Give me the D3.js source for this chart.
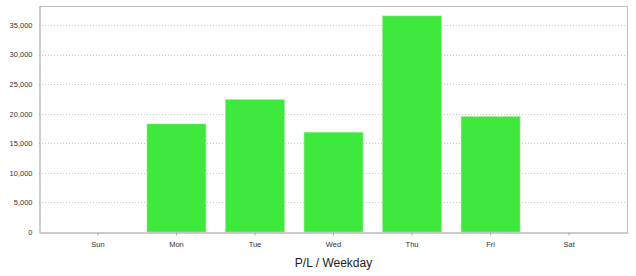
<!DOCTYPE html>
<html>
<head>
<meta charset="utf-8">
<script src="https://cdn.jsdelivr.net/npm/d3@7"></script>
<style>
  body { margin: 0; background: #fff; }
  text { font-family: "Liberation Sans", Arial, sans-serif; fill: #333; }
</style>
</head>
<body>
<div id="chart"></div>
<script>
const weekdays = ['Sun', 'Mon', 'Tue', 'Wed', 'Thu', 'Fri', 'Sat'];
const pl = [0, 18260, 22370, 16860, 36520, 19500, 0];
const yTicks = [0, 5000, 10000, 15000, 20000, 25000, 30000, 35000];
const yMax = 38200;

const W = 636;
const H = 276;
const margin = { t: 6, r: 8, b: 44, l: 39 };
const innerW = W - margin.l - margin.r;
const innerH = H - margin.t - margin.b;

const data = weekdays.map((d, i) => ({ day: d, value: pl[i] }));

const x = d3.scaleBand()
  .domain(weekdays)
  .range([0, innerW])
  .paddingInner(0.25)
  .paddingOuter(0.375);

const y = d3.scaleLinear()
  .domain([0, yMax])
  .range([innerH, 0]);

const svg = d3.select('#chart').append('svg')
  .attr('width', W)
  .attr('height', H);

const g = svg.append('g')
  .attr('transform', `translate(${margin.l}, ${margin.t})`);

// grid
g.selectAll('.grid')
  .data(yTicks.filter(t => t > 0))
  .enter().append('line')
  .attr('class', 'grid')
  .attr('x1', 0)
  .attr('x2', innerW)
  .attr('y1', d => Math.round(y(d)) + 0.5)
  .attr('y2', d => Math.round(y(d)) + 0.5)
  .style('stroke', '#c8c8c8')
  .style('stroke-dasharray', '1,2');

// frame (top + right)
g.append('path')
  .attr('d', `M0.5,0.5H${innerW - 0.5}V${innerH}`)
  .style('fill', 'none')
  .style('stroke', '#bdbdbd');

// bars
g.selectAll('.bar')
  .data(data.filter(d => d.value > 0))
  .enter().append('rect')
  .attr('class', 'bar')
  .attr('x', d => x(d.day))
  .attr('width', x.bandwidth())
  .attr('y', d => y(d.value))
  .attr('height', d => innerH - y(d.value))
  .style('fill', '#3fe83c')
  .style('stroke', '#8cf08a')
  .style('stroke-width', 0.6);

// y axis
const yAxis = d3.axisLeft(y)
  .tickValues(yTicks)
  .tickSize(0)
  .tickPadding(7)
  .tickFormat(d3.format(','));

g.append('g')
  .attr('class', 'axis axis--y')
  .attr('transform', 'translate(0.5, 0)')
  .call(yAxis)
  .call(s => s.select('.domain').style('stroke', '#999'))
  .call(s => s.selectAll('text').style('font-size', '7.5px'));

// x axis
const xAxis = d3.axisBottom(x)
  .tickSize(3)
  .tickSizeOuter(0)
  .tickPadding(6);

g.append('g')
  .attr('class', 'axis axis--x')
  .attr('transform', `translate(0, ${innerH + 0.5})`)
  .call(xAxis)
  .call(s => s.select('.domain').style('stroke', '#999'))
  .call(s => s.selectAll('.tick line').style('stroke', '#aaa'))
  .call(s => s.selectAll('text').style('font-size', '7.5px'));

// title
svg.append('text')
  .attr('x', margin.l + innerW / 2)
  .attr('y', 267)
  .attr('text-anchor', 'middle')
  .style('font-size', '12px')
  .style('fill', '#222')
  .text('P/L / Weekday');
</script>
</body>
</html>
